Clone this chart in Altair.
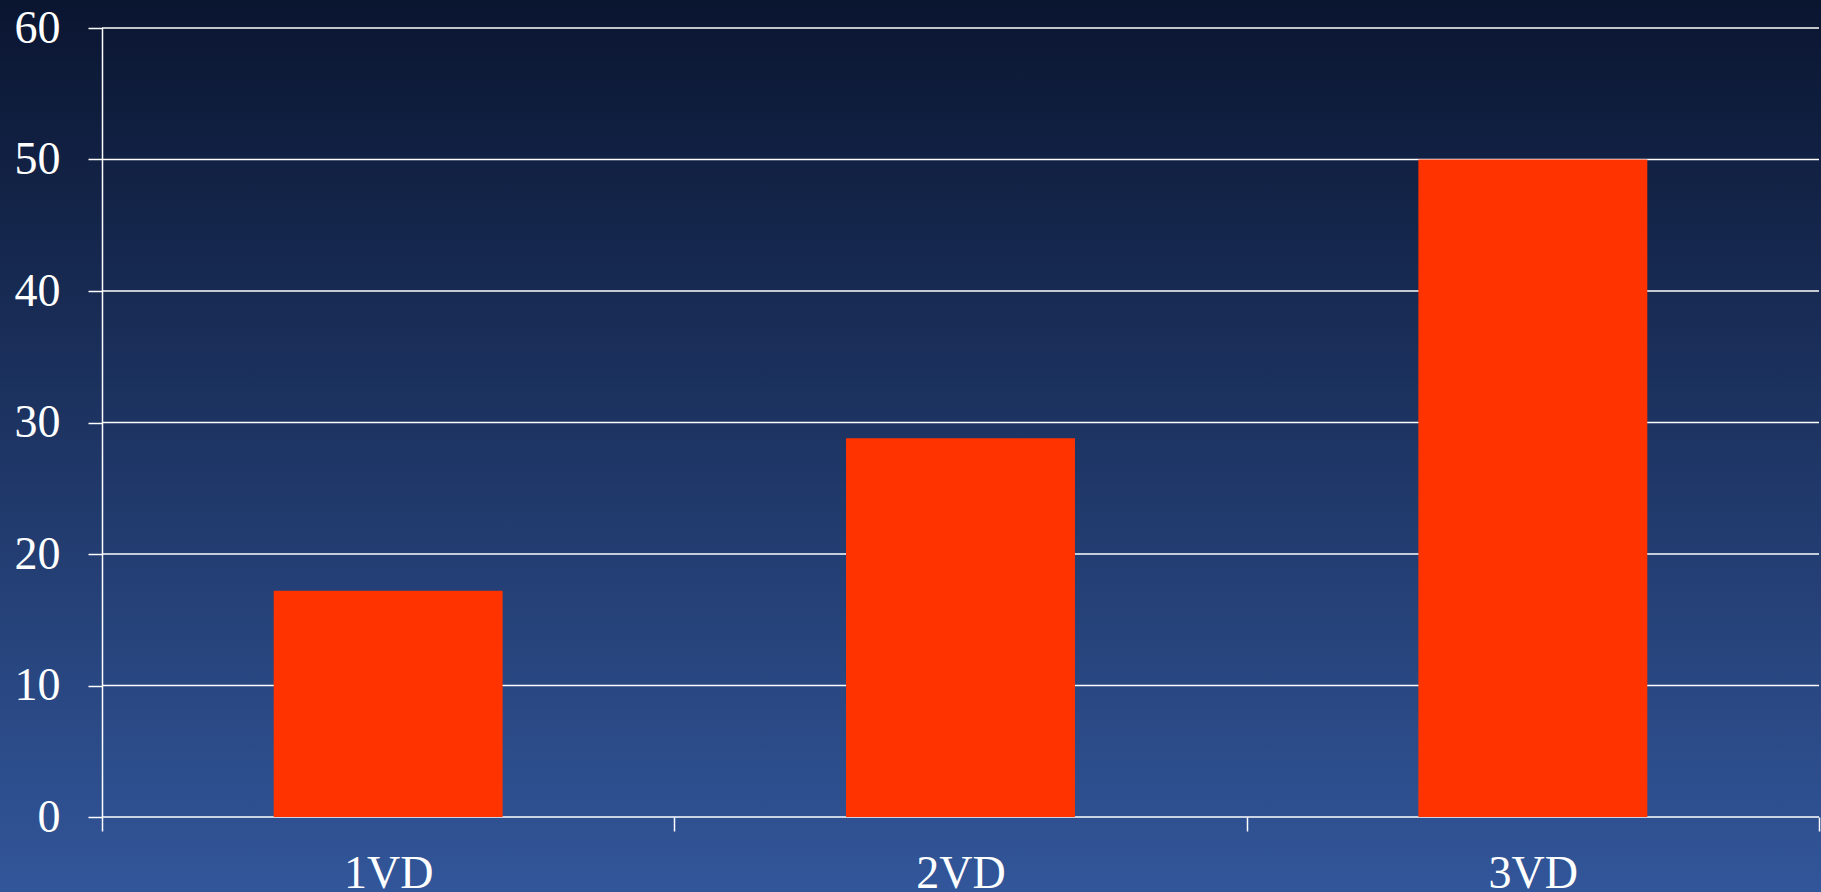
import altair as alt
import pandas as pd

# ---- data ----
categories = ["1VD", "2VD", "3VD"]
values = [17.2, 28.8, 50.0]
y_ticks = [0, 10, 20, 30, 40, 50, 60]

W, H = 1717, 789
FONT = "Liberation Serif"

bars_df = pd.DataFrame({"cat": categories, "val": values})
grid_df = pd.DataFrame({"v": y_ticks})

yscale = alt.Scale(domain=[0, 60], nice=False)
xscale = alt.Scale(domain=categories, paddingInner=0, paddingOuter=0)

y_axis = alt.Axis(
    title=None, values=y_ticks, grid=False, zindex=1,
    domain=True, domainColor="white", domainWidth=1.5,
    ticks=True, tickSize=14, tickColor="white", tickWidth=1.5,
    labelFont=FONT, labelFontSize=46, labelColor="white", labelPadding=28,
)

bg = alt.Chart(alt.Data(values=[{"a": 1}])).mark_rect(
    fill=alt.Gradient(
        gradient="linear",
        stops=[
            alt.GradientStop(color="#0a1530", offset=0),
            alt.GradientStop(color="#32569a", offset=1),
        ],
        x1=0, x2=0, y1=0, y2=1,
    )
).encode(
    x=alt.value(-102), x2=alt.value(W + 2),
    y=alt.value(-28), y2=alt.value(H + 75),
)

grid = alt.Chart(grid_df).mark_rule(color="white", strokeWidth=1.6).encode(
    y=alt.Y("v:Q", scale=yscale, axis=y_axis),
    x=alt.value(0), x2=alt.value(W),
)

bars = alt.Chart(bars_df).mark_bar(
    color="#ff3300", width=alt.RelativeBandSize(0.4)
).encode(
    x=alt.X(
        "cat:N", sort=categories, scale=xscale,
        axis=alt.Axis(
            title=None, labelAngle=0, domain=False, grid=False, zindex=1,
            ticks=True, tickBand="extent", tickSize=14, tickColor="white", tickWidth=1.5,
            labelFont=FONT, labelFontSize=46, labelColor="white", labelPadding=20,
        ),
    ),
    y=alt.Y("val:Q", scale=yscale, axis=y_axis),
)

chart = alt.layer(bg, grid, bars).properties(
    width=W, height=H,
    padding={"left": 102, "top": 28, "right": 2, "bottom": 75},
    autosize=alt.AutoSizeParams(type="none"),
    background="#1e3665",
).configure_view(strokeWidth=0)

chart.save("out.html", embed_options={"renderer": "svg", "actions": False})
